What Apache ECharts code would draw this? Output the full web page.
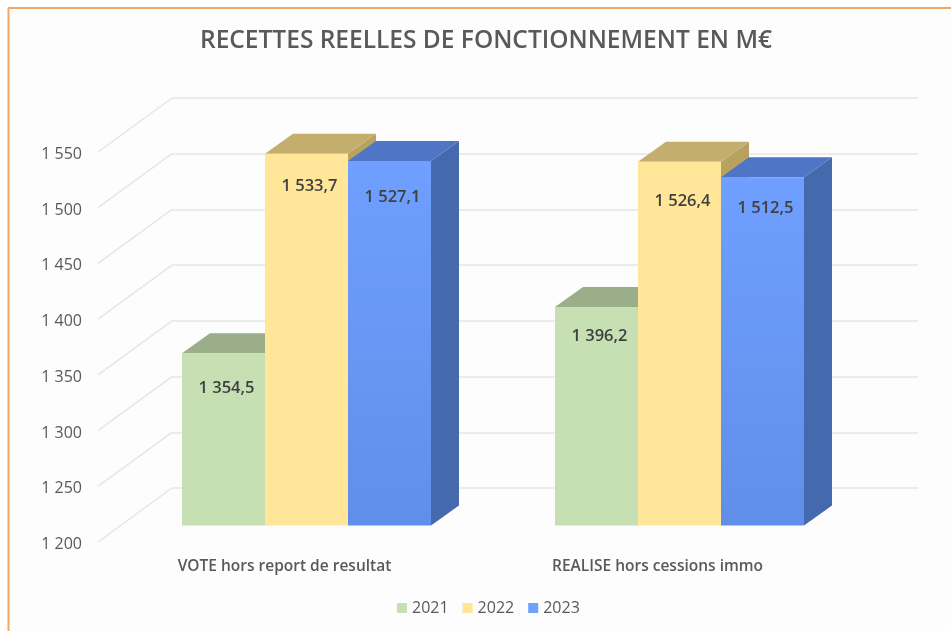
<!DOCTYPE html>
<html>
<head>
<meta charset="utf-8">
<title>Recettes reelles de fonctionnement</title>
<style>
  html, body { margin: 0; padding: 0; background: #fff; }
  #chart { width: 951px; height: 631px; }
</style>
<script src="https://cdn.jsdelivr.net/npm/echarts@6/dist/echarts.min.js"></script>
</head>
<body>
<div id="chart"></div>
<script>
const categories = ['VOTE hors report de resultat', 'REALISE hors cessions immo']
const years = ['2021', '2022', '2023']
const values2021 = [1354.5, 1396.2]
const values2022 = [1533.7, 1526.4]
const values2023 = [1527.1, 1512.5]
const tickValues = [1200, 1250, 1300, 1350, 1400, 1450, 1500, 1550]

// couleurs des barres : face (haut, bas), dessus, cote
const faces = ['#c6e0b4', '#ffe699', '#6f9fff']
const facesLow = ['#c6e0b4', '#ffe699', '#608fe9']
const tops = ['#9aae8a', '#c4ae6e', '#4f75c6']
const sides = ['#8a9c7c', '#b9a15f', '#4569ad']
// decalage vertical des etiquettes sous le haut de la barre
const labelOffsets = [[35, 29], [33, 39], [36, 31]]

const fontName = '"Open Sans", "Noto Sans", sans-serif'
const barShare = 83 / 373
const depthX = 28
const depthY = 20
const wallX = 74
const wallY = 54

const fmt = (v) => {
  const s = v.toFixed(1).replace('.', ',')
  return s.charAt(0) + ' ' + s.slice(1)
}
const fmtTick = (v) => '{t|' + String(v).charAt(0) + ' ' + String(v).slice(1) + '}'

function bar3d(k) {
  return (params, api) => {
    const idx = api.value(0)
    const val = api.value(1)
    const w = api.size([1, 0])[0] * barShare
    const cx = api.coord([idx, val])[0] + (k - 1) * w
    const yTop = api.coord([idx, val])[1]
    const yBase = api.coord([idx, 1200])[1]
    const x0 = cx - w / 2
    const x1 = cx + w / 2
    const faceFill = new echarts.graphic.LinearGradient(0, 0, 0, 1, [
      { offset: 0, color: faces[k] },
      { offset: 1, color: facesLow[k] }
    ])
    return {
      type: 'group',
      children: [
        { type: 'polygon', shape: { points: [[x1, yTop], [x1 + depthX, yTop - depthY], [x1 + depthX, yBase - depthY], [x1, yBase]] }, style: { fill: sides[k] } },
        { type: 'polygon', shape: { points: [[x0, yTop], [x0 + depthX, yTop - depthY], [x1 + depthX, yTop - depthY], [x1, yTop]] }, style: { fill: tops[k] } },
        { type: 'rect', shape: { x: x0, y: yTop, width: w, height: yBase - yTop }, style: { fill: faceFill } },
        {
          type: 'text',
          x: cx + 3,
          y: yTop + labelOffsets[k][params.dataIndex],
          style: {
            text: fmt(val),
            fill: '#3f3f3f',
            font: '600 16.5px ' + fontName,
            align: 'center',
            verticalAlign: 'middle'
          }
        }
      ]
    }
  }
}

function wallLine(params, api) {
  const p = api.coord([0, api.value(0)])
  const x = params.coordSys.x
  return {
    type: 'line',
    shape: { x1: x, y1: p[1], x2: x + wallX, y2: p[1] - wallY },
    style: { stroke: '#e6e6e6', lineWidth: 1.5 }
  }
}

const seriesValues = [values2021, values2022, values2023]
const barSeries = years.map((name, k) => ({
  name,
  type: 'custom',
  xAxisIndex: 0,
  yAxisIndex: 0,
  itemStyle: { color: faces[k] },
  encode: { x: 0, y: 1 },
  renderItem: bar3d(k),
  data: seriesValues[k].map((v, i) => [i, v]),
  z: 5 + k
}))

const myChart = echarts.init(document.getElementById('chart'))
myChart.setOption({
  animation: false,
  backgroundColor: '#fff',
  title: {
    text: 'RECETTES REELLES DE FONCTIONNEMENT EN M€',
    left: 481,
    top: 24,
    textAlign: 'center',
    textStyle: { fontFamily: fontName, fontSize: 24.5, fontWeight: 600, color: '#595959' }
  },
  legend: {
    data: years,
    left: 392,
    top: 595,
    icon: 'rect',
    itemWidth: 10,
    itemHeight: 10,
    itemGap: 14,
    selectedMode: false,
    textStyle: { fontFamily: fontName, fontSize: 16, fontWeight: 500, color: '#595959' }
  },
  graphic: [
    { type: 'rect', shape: { x: 9, y: 9, width: 942, height: 622 }, style: { fill: '#fdfdfd' } },
    { type: 'line', shape: { x1: 8, y1: 8, x2: 951, y2: 8 }, style: { stroke: '#f2a863', lineWidth: 2 } },
    { type: 'line', shape: { x1: 8.5, y1: 8, x2: 8.5, y2: 631 }, style: { stroke: '#f2a863', lineWidth: 2 } }
  ],
  grid: [
    // plan avant des barres
    { left: 120, top: 135.5, width: 746, height: 390 },
    // mur du fond
    { left: 172, top: 98, width: 746, height: 390 },
    // plan des libelles
    { left: 98, top: 152, width: 746, height: 390 }
  ],
  xAxis: [
    { gridIndex: 0, type: 'category', data: categories, axisLine: { show: false }, axisTick: { show: false }, axisLabel: { show: false } },
    { gridIndex: 1, type: 'category', data: categories, axisLine: { show: false }, axisTick: { show: false }, axisLabel: { show: false } },
    {
      gridIndex: 2,
      type: 'category',
      data: categories,
      axisLine: { show: false },
      axisTick: { show: false },
      axisLabel: { margin: 17, fontFamily: fontName, fontSize: 15.5, fontWeight: 600, color: '#595959' }
    }
  ],
  yAxis: [
    { gridIndex: 0, type: 'value', min: 1200, max: 1550, interval: 50, axisLabel: { show: false }, splitLine: { show: false } },
    { gridIndex: 1, type: 'value', min: 1200, max: 1550, interval: 50, axisLabel: { show: false }, splitLine: { lineStyle: { color: '#e6e6e6', width: 1.5 } } },
    {
      gridIndex: 2,
      type: 'value',
      min: 1200,
      max: 1550,
      interval: 50,
      splitLine: { show: false },
      axisLine: { show: false },
      axisTick: { show: false },
      axisLabel: {
        margin: 16,
        formatter: fmtTick,
        rich: { t: { padding: [5, 0, 0, 0], fontFamily: fontName, fontSize: 16, fontWeight: 500, color: '#595959' } }
      }
    }
  ],
  series: [
    {
      type: 'custom',
      xAxisIndex: 2,
      yAxisIndex: 2,
      silent: true,
      encode: { y: 0 },
      renderItem: wallLine,
      data: tickValues.map((v) => [v]),
      z: 1
    },
    ...barSeries
  ]
})
</script>
</body>
</html>
